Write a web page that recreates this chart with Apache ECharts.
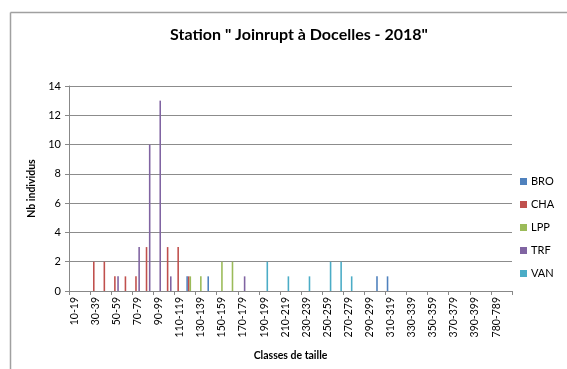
<!DOCTYPE html>
<html>
<head>
<meta charset="utf-8">
<script src="https://cdn.jsdelivr.net/npm/echarts@6/dist/echarts.min.js"></script>
<style>html,body{margin:0;padding:0;background:#fff;}#c{width:567px;height:369px;}</style>
</head>
<body>
<div id="c"></div>
<script>
const categories = ["10-19","20-29","30-39","40-49","50-59","60-69","70-79","80-89","90-99","100-109",
"110-119","120-129","130-139","140-149","150-159","160-169","170-179","180-189","190-199","200-209",
"210-219","220-229","230-239","240-249","250-259","260-269","270-279","280-289","290-299","300-309",
"310-319","320-329","330-339","340-349","350-359","360-369","370-379","380-389","390-399","400-409",
"780-789","790-799"];
const seriesNames = ["BRO","CHA","LPP","TRF","VAN"];
const BRO = [0,0,0,0,0,0,0,0,0,0, 0,1,0,1,0,0,0,0,0,0, 0,0,0,0,0,0,0,0,0,1, 1,0,0,0,0,0,0,0,0,0, 0,0];
const CHA = [0,0,2,2,1,1,1,3,0,3, 3,1,0,0,0,0,0,0,0,0, 0,0,0,0,0,0,0,0,0,0, 0,0,0,0,0,0,0,0,0,0, 0,0];
const LPP = [0,0,0,0,0,0,0,0,0,0, 0,1,1,0,2,2,0,0,0,0, 0,0,0,0,0,0,0,0,0,0, 0,0,0,0,0,0,0,0,0,0, 0,0];
const TRF = [0,0,0,0,1,0,3,10,13,1, 0,0,0,0,0,0,1,0,0,0, 0,0,0,0,0,0,0,0,0,0, 0,0,0,0,0,0,0,0,0,0, 0,0];
const VAN = [0,0,0,0,0,0,0,0,0,0, 0,0,0,0,0,0,0,0,2,0, 1,0,1,0,2,2,1,0,0,0, 0,0,0,0,0,0,0,0,0,0, 0,0];
const yTicks = [0,2,4,6,8,10,12,14];
const colors = ["#4F81BD","#C0504D","#9BBB59","#8064A2","#4BACC6"];
const values = [BRO,CHA,LPP,TRF,VAN];

const chart = echarts.init(document.getElementById('c'));
const font = 'Lato, "Liberation Sans", sans-serif';
chart.setOption({
  animation:false,
  textStyle:{fontFamily:font},
  title:{text:'Station " Joinrupt à Docelles - 2018"',left:294,top:22,textAlign:'center',
    textStyle:{fontSize:16,fontWeight:'bold',color:'#000',fontFamily:font}},
  graphic:[
    {type:'line',shape:{x1:10.5,y1:12.5,x2:567,y2:12.5},style:{stroke:'#a0a0a0',lineWidth:1.5}},
    {type:'line',shape:{x1:10.5,y1:12.5,x2:10.5,y2:369},style:{stroke:'#a0a0a0',lineWidth:1.5}}
  ],
  legend:{orient:'vertical',left:515,top:170,itemWidth:7,itemHeight:7,itemGap:10,icon:'rect',
    data:seriesNames,textStyle:{fontSize:11,color:'#000',fontFamily:font,lineHeight:13,padding:[0,0,0,-1]}},
  grid:{left:69,right:55,top:86,bottom:78,containLabel:false},
  xAxis:{type:'category',data:categories,
    name:'Classes de taille',nameLocation:'middle',nameGap:59,
    nameTextStyle:{fontSize:10.5,fontWeight:'bold',color:'#000',fontFamily:font},
    axisLine:{lineStyle:{color:'#888',width:1}},
    axisTick:{show:true,length:4,lineStyle:{color:'#888'}},
    axisLabel:{interval:1,rotate:90,fontSize:10.5,color:'#000',margin:6,fontFamily:font}},
  yAxis:{type:'value',min:0,max:14,interval:2,
    name:'Nb individus',nameLocation:'middle',nameGap:32,
    nameTextStyle:{fontSize:10.5,fontWeight:'bold',color:'#000',fontFamily:font},
    axisLine:{show:true,lineStyle:{color:'#888',width:1}},
    axisTick:{show:true,length:4,lineStyle:{color:'#888'}},
    splitLine:{lineStyle:{color:'#8c8c8c',width:1}},
    axisLabel:{fontSize:11,color:'#000',margin:8,fontFamily:font,
      formatter:v=>yTicks.includes(v)?String(v):''}},
  series:seriesNames.map((n,i)=>({name:n,type:'bar',data:values[i],
    itemStyle:{color:colors[i]},barGap:'0%',barCategoryGap:'25%'}))
});
</script>
</body>
</html>
